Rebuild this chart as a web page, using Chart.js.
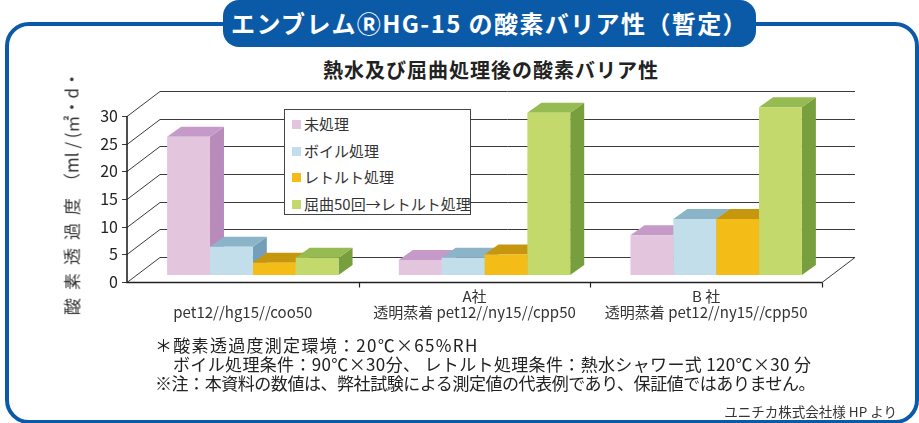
<!DOCTYPE html>
<html lang="ja">
<head>
<meta charset="UTF-8">
<title>エンブレムHG-15 の酸素バリア性</title>
<script src="https://cdn.jsdelivr.net/npm/chart.js"></script>
<style>
  body { margin: 0; width: 919px; height: 423px; position: relative; overflow: hidden; background: #fff;
         font-family: "Noto Sans CJK JP", "Noto Sans", sans-serif; color: #333; }
  #chart { position: absolute; left: 0; top: 0; }
  .frame { position: absolute; left: 5px; top: 22px; width: 906px; height: 394px;
           border: 4px solid #0b5aa8; border-radius: 24px; }
  .pill { position: absolute; left: 223px; top: 0; width: 533px; height: 47px; background: #0b5aa8;
          border-radius: 16px; color: #fff; font-weight: bold; font-size: 24px; line-height: 45px;
          letter-spacing: 1.4px; text-align: center; white-space: nowrap; }
  .subtitle { position: absolute; left: 491px; top: 55px; transform: translateX(-50%); white-space: nowrap;
              font-size: 20px; font-weight: bold; color: #222; letter-spacing: 1px; }
  .ylabel { position: absolute; left: 71px; top: 193px; transform: translate(-50%, -50%) rotate(-90deg);
            white-space: nowrap; font-size: 17px; color: #333; }
  .ylabel .cjk { letter-spacing: 8px; }
  .legend { position: absolute; left: 284px; top: 109px; width: 185px; height: 104px; background: #fff;
            border: 1px solid #444; }
  .legend div { position: absolute; left: 7px; height: 20px; line-height: 20px; font-size: 15px; color: #333;
                white-space: nowrap; }
  .legend span { display: inline-block; width: 9px; height: 9px; margin-right: 3px; vertical-align: 1px; }
  .note { position: absolute; font-size: 17px; line-height: 19px; color: #222; white-space: nowrap; }
  .source { position: absolute; right: 22px; top: 401px; font-size: 13.5px; color: #333; white-space: nowrap; }
</style>
</head>
<body>
  <div class="frame"></div>
  <div class="pill">エンブレムⓇHG-15 の酸素バリア性（暫定）</div>
  <div class="subtitle">熱水及び屈曲処理後の酸素バリア性</div>

  <canvas id="chart" width="919" height="423"></canvas>

  <div class="ylabel"><span class="cjk">酸素透過度</span>（ml / (㎡・d・</div>
  <div class="legend" id="legend"></div>

  <div class="note" style="left:155px; top:335px; letter-spacing:1.3px;">＊酸素透過度測定環境：20℃×65%RH</div>
  <div class="note" style="left:173px; top:354px; letter-spacing:0.35px;">ボイル処理条件：90℃×30分、 レトルト処理条件：熱水シャワー式 120℃×30 分</div>
  <div class="note" style="left:155px; top:373px; letter-spacing:-0.45px;">※注：本資料の数値は、弊社試験による測定値の代表例であり、保証値ではありません。</div>
  <div class="source">ユニチカ株式会社様 HP より</div>

<script>
// data
const categories = [
  ['', 'pet12//hg15//coo50'],
  ['A社', '透明蒸着 pet12//ny15//cpp50'],
  ['B 社', '透明蒸着 pet12//ny15//cpp50']
];
const seriesNames = ['未処理', 'ボイル処理', 'レトルト処理', '屈曲50回→レトルト処理'];
const untreated = [25, 2.7, 7.2];
const boiled = [5.1, 3.1, 10.1];
const retort = [2.2, 3.7, 10.1];
const flexRetort = [3.1, 29.3, 30.3];
const yTicks = [0, 5, 10, 15, 20, 25, 30];

// front / top / side colours of each series
const frontColors = ['#e4c5de', '#c1deea', '#f3bc17', '#c3d96b'];
const topColors = ['#c69ac8', '#8bb4c9', '#c7960f', '#95bb52'];
const sideColors = ['#b98bbb', '#73a0b8', '#b58810', '#779f3e'];

// 3d look
const wallDepth = { x: 33, y: 25 };
const barShift = { x: 10, y: 7 };
const barDepth = { x: 14, y: 10 };

// html legend
const legendBox = document.getElementById('legend');
seriesNames.forEach((name, i) => {
  const row = document.createElement('div');
  row.style.top = (4 + i * 26.5) + 'px';
  row.innerHTML = '<span style="background:' + frontColors[i] + '"></span>' + name;
  legendBox.appendChild(row);
});

const frame3d = {
  id: 'frame3d',
  beforeDatasetsDraw(chart) {
    const { ctx, chartArea: a, scales: { x, y } } = chart;
    ctx.save();
    ctx.strokeStyle = '#3a3a3a';
    ctx.lineWidth = 1;
    y.ticks.forEach(t => {
      const py = Math.round(y.getPixelForValue(t.value)) + 0.5;
      ctx.beginPath();
      ctx.moveTo(a.left - 5, py);
      ctx.lineTo(a.left, py);
      ctx.lineTo(a.left + wallDepth.x, py - wallDepth.y);
      ctx.lineTo(a.right + wallDepth.x, py - wallDepth.y);
      ctx.stroke();
    });
    const b = Math.round(a.bottom) + 0.5;
    ctx.beginPath();
    ctx.moveTo(a.right, b);
    ctx.lineTo(a.right + wallDepth.x, b - wallDepth.y);
    ctx.stroke();

    // front axes
    ctx.strokeStyle = '#222';
    ctx.lineWidth = 1.6;
    ctx.beginPath();
    ctx.moveTo(a.left, Math.round(a.top));
    ctx.lineTo(a.left, b);
    ctx.lineTo(a.right, b);
    ctx.stroke();
    ctx.lineWidth = 1.2;
    for (let i = 1; i <= categories.length; i++) {
      const px = Math.round(x.getPixelForValue(i - 0.5)) + 0.5;
      ctx.beginPath();
      ctx.moveTo(px, b);
      ctx.lineTo(px, b + 5);
      ctx.stroke();
    }
    ctx.restore();

    // tops and sides of the bars, left to right
    ctx.save();
    ctx.translate(barShift.x, -barShift.y);
    categories.forEach((c, i) => {
      chart.data.datasets.forEach((ds, d) => {
        const bar = chart.getDatasetMeta(d).data[i];
        const l = bar.x - bar.width / 2, r = bar.x + bar.width / 2;
        const top = bar.y, base = bar.base;
        ctx.fillStyle = sideColors[d];
        ctx.beginPath();
        ctx.moveTo(r, base);
        ctx.lineTo(r + barDepth.x, base - barDepth.y);
        ctx.lineTo(r + barDepth.x, top - barDepth.y);
        ctx.lineTo(r, top);
        ctx.closePath();
        ctx.fill();
        ctx.fillStyle = topColors[d];
        ctx.beginPath();
        ctx.moveTo(l, top);
        ctx.lineTo(l + barDepth.x, top - barDepth.y);
        ctx.lineTo(r + barDepth.x, top - barDepth.y);
        ctx.lineTo(r, top);
        ctx.closePath();
        ctx.fill();
      });
    });
    // keep the shift for the front faces drawn by chart.js
  },
  afterDatasetsDraw(chart) {
    chart.ctx.restore();
  }
};

const series = [untreated, boiled, retort, flexRetort];

new Chart(document.getElementById('chart'), {
  type: 'bar',
  data: {
    labels: categories,
    datasets: series.map((vals, i) => ({
      label: seriesNames[i],
      data: vals,
      backgroundColor: frontColors[i],
      borderWidth: 0,
      barPercentage: 1,
      categoryPercentage: 0.74,
      clip: false
    }))
  },
  options: {
    responsive: false,
    animation: false,
    layout: { padding: { left: 87, right: 97, top: 116, bottom: 91 } },
    plugins: { legend: { display: false }, tooltip: { enabled: false } },
    scales: {
      x: {
        grid: { display: false, drawTicks: false },
        border: { display: false },
        ticks: {
          color: '#333', padding: 6, maxRotation: 0, autoSkip: false,
          font: { family: '"Noto Sans CJK JP"', size: 15, lineHeight: 1.1 }
        },
        afterFit(s) { s.height = 50; }
      },
      y: {
        min: 0, max: 30,
        grid: { display: false, drawTicks: false },
        border: { display: false },
        afterBuildTicks(s) { s.ticks = yTicks.map(v => ({ value: v })); },
        ticks: {
          color: '#222', padding: 9,
          font: { family: '"Noto Sans CJK JP"', size: 16 }
        },
        afterFit(s) { s.width = 40; }
      }
    }
  },
  plugins: [frame3d]
});
</script>
</body>
</html>
